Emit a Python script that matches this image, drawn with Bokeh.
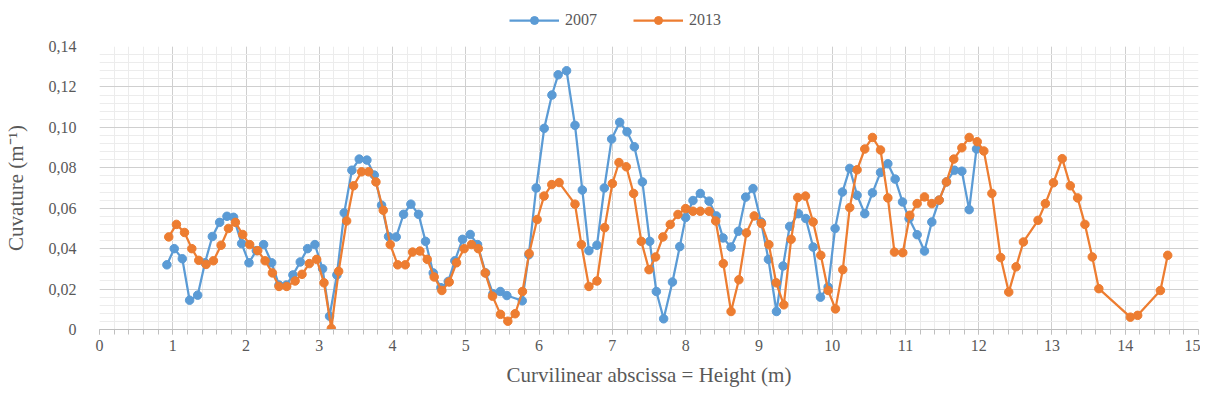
from bokeh.plotting import figure
from bokeh.layouts import column
from bokeh.models import (Legend, LegendItem, SingleIntervalTicker, CustomJSTickFormatter,
                          ColumnDataSource, Range1d)
from bokeh.embed import file_html
from bokeh.resources import INLINE

# ---- data ----
x_2007 = [0.92, 1.02, 1.13, 1.23, 1.34, 1.44, 1.54, 1.64, 1.74, 1.83, 1.94, 2.04, 2.14, 2.24, 2.35,
          2.45, 2.55, 2.64, 2.74, 2.84, 2.94, 3.045, 3.14, 3.24, 3.34, 3.445, 3.545, 3.65, 3.75, 3.85,
          3.945, 4.05, 4.15, 4.25, 4.355, 4.45, 4.555, 4.66, 4.76, 4.85, 4.955, 5.06, 5.16, 5.27, 5.37,
          5.47, 5.56, 5.77, 5.86, 5.96, 6.07, 6.175, 6.26, 6.375, 6.49, 6.59, 6.68, 6.79, 6.89, 6.99,
          7.1, 7.2, 7.3, 7.41, 7.51, 7.6, 7.7, 7.82, 7.92, 8.0, 8.1, 8.2, 8.32, 8.42, 8.51,
          8.62, 8.72, 8.82, 8.92, 9.03, 9.13, 9.24, 9.33, 9.42, 9.54, 9.64, 9.74, 9.84, 9.945, 10.04,
          10.14, 10.24, 10.34, 10.445, 10.55, 10.66, 10.76, 10.86, 10.96, 11.05, 11.16, 11.26, 11.36, 11.46, 11.56,
          11.67, 11.77, 11.87, 11.97]
y_2007 = [0.032, 0.040, 0.035, 0.0145, 0.017, 0.033, 0.046, 0.053, 0.056, 0.0555, 0.0425, 0.033, 0.039, 0.042, 0.033,
          0.022, 0.022, 0.027, 0.0334, 0.040, 0.042, 0.030, 0.0066, 0.027, 0.0577, 0.0788, 0.0843, 0.0838, 0.0764, 0.0615,
          0.046, 0.0458, 0.057, 0.062, 0.057, 0.0436, 0.028, 0.0207, 0.0238, 0.034, 0.0446, 0.047, 0.042, 0.028, 0.0177,
          0.0188, 0.0168, 0.0142, 0.037, 0.070, 0.0995, 0.116, 0.126, 0.128, 0.101, 0.069, 0.039, 0.0417, 0.070, 0.0942,
          0.1025, 0.0978, 0.0904, 0.073, 0.0436, 0.0188, 0.0053, 0.0235, 0.041, 0.0554, 0.0638, 0.0673, 0.0635, 0.0562, 0.0453,
          0.0408, 0.0486, 0.0655, 0.0697, 0.0532, 0.0347, 0.0089, 0.0314, 0.051, 0.0573, 0.0549, 0.0408, 0.016, 0.021, 0.050,
          0.068, 0.0797, 0.0664, 0.0573, 0.0676, 0.0777, 0.082, 0.0744, 0.0631, 0.0549, 0.0469, 0.0388, 0.0532, 0.064, 0.073,
          0.0788, 0.0783, 0.0593, 0.0893]

x_2013 = [0.945, 1.05, 1.16, 1.26, 1.355, 1.455, 1.555, 1.66, 1.76, 1.855, 1.955, 2.05, 2.16, 2.26, 2.36,
          2.45, 2.555, 2.67, 2.764, 2.864, 2.964, 3.064, 3.164, 3.264, 3.373, 3.468, 3.577, 3.673, 3.773, 3.873,
          3.968, 4.07, 4.173, 4.273, 4.373, 4.473, 4.568, 4.673, 4.773, 4.873, 4.977, 5.077, 5.17, 5.264, 5.364,
          5.473, 5.573, 5.673, 5.773, 5.864, 5.973, 6.068, 6.173, 6.273, 6.49, 6.577, 6.68, 6.79, 6.895, 7.0,
          7.09, 7.19, 7.29, 7.395, 7.5, 7.59, 7.69, 7.79, 7.895, 8.0, 8.1, 8.2, 8.32, 8.41, 8.514,
          8.62, 8.727, 8.83, 8.936, 9.036, 9.136, 9.236, 9.34, 9.44, 9.53, 9.636, 9.74, 9.845, 9.945, 10.045,
          10.145, 10.24, 10.34, 10.445, 10.55, 10.66, 10.76, 10.85, 10.964, 11.06, 11.16, 11.26, 11.36, 11.46, 11.56,
          11.66, 11.77, 11.87, 11.98, 12.07, 12.18, 12.3, 12.41, 12.51, 12.61, 12.81, 12.91, 13.02, 13.14, 13.25,
          13.35, 13.45, 13.55, 13.64, 14.07, 14.17, 14.48, 14.58]
y_2013 = [0.0458, 0.052, 0.048, 0.040, 0.0342, 0.0322, 0.034, 0.0417, 0.050, 0.053, 0.047, 0.042, 0.039, 0.034, 0.028,
          0.0213, 0.0213, 0.024, 0.0273, 0.0326, 0.0347, 0.0231, 0.0005, 0.0288, 0.0537, 0.0711, 0.078, 0.078, 0.073, 0.059,
          0.042, 0.032, 0.032, 0.0383, 0.0388, 0.0347, 0.026, 0.0193, 0.0235, 0.033, 0.040, 0.042, 0.040, 0.028, 0.0165,
          0.0075, 0.0041, 0.0078, 0.0188, 0.0376, 0.0544, 0.066, 0.0717, 0.0727, 0.062, 0.042, 0.0213, 0.024, 0.0504, 0.0722,
          0.0826, 0.0805, 0.0673, 0.0436, 0.0296, 0.0359, 0.0458, 0.052, 0.0569, 0.0598, 0.0585, 0.0585, 0.0585, 0.0537, 0.0326,
          0.0089, 0.0246, 0.0478, 0.0562, 0.0524, 0.042, 0.0231, 0.0122, 0.0446, 0.0653, 0.066, 0.0532, 0.0367, 0.0193, 0.0102,
          0.0296, 0.0603, 0.079, 0.0893, 0.095, 0.0888, 0.0651, 0.0383, 0.038, 0.0565, 0.0623, 0.0656, 0.0623, 0.064, 0.073,
          0.0843, 0.0899, 0.095, 0.0929, 0.0883, 0.0673, 0.0356, 0.0185, 0.031, 0.0433, 0.054, 0.0623, 0.0726, 0.0845, 0.0711,
          0.0651, 0.052, 0.0359, 0.0202, 0.0061, 0.007, 0.0193, 0.0367]

series_names = ["2007", "2013"]
series_colors = ["#5B9BD5", "#ED7D31"]

SERIF = "Liberation Serif"
TXT = "#595959"
LW = 2.25
MS = 8.5

sources = [ColumnDataSource(dict(x=x_2007, y=y_2007)),
           ColumnDataSource(dict(x=x_2013, y=y_2013))]

# ---------------- legend strip (top) ----------------
# The same series are drawn here but the y range lies far above the data, so only the legend shows.
top = figure(width=1190, height=38, min_border=0,
             x_range=Range1d(0, 15), y_range=Range1d(10, 11),
             output_backend="svg", toolbar_location=None)
top.axis.visible = False
top.grid.visible = False
top.outline_line_color = None

items = []
for name, col, src in zip(series_names, series_colors, sources):
    l0 = top.line("x", "y", source=src, line_color=col, line_width=LW)
    s0 = top.scatter("x", "y", source=src, marker="circle", size=MS,
                     fill_color=col, line_color=col)
    items.append(LegendItem(label=name, renderers=[l0, s0]))

legend = Legend(items=items, orientation="horizontal", location=(410, 8),
                glyph_width=50, glyph_height=20, label_standoff=6, spacing=36,
                padding=0, margin=0, border_line_color=None, background_fill_alpha=0,
                label_text_font=SERIF, label_text_font_size="16px", label_text_color=TXT)
top.add_layout(legend, "center")

# ---------------- main chart ----------------
p = figure(frame_width=1099, frame_height=283,
           min_border_left=89, min_border_right=2, min_border_top=8, min_border_bottom=57,
           x_range=Range1d(0, 15), y_range=Range1d(0, 0.14),
           output_backend="svg", toolbar_location=None)
p.outline_line_color = None
p.background_fill_color = "white"

p.xaxis.ticker = SingleIntervalTicker(interval=1, num_minor_ticks=5)
p.yaxis.ticker = SingleIntervalTicker(interval=0.02, num_minor_ticks=5)
p.yaxis.formatter = CustomJSTickFormatter(
    code="return Math.abs(tick) < 1e-9 ? '0' : tick.toFixed(2).replace('.', ',');")

p.xaxis.axis_label = "Curvilinear abscissa = Height (m)"
p.yaxis.axis_label = "Cuvature (m\u207b\u00b9)"
for ax in (p.xaxis[0], p.yaxis[0]):
    ax.axis_label_text_font = SERIF
    ax.axis_label_text_font_style = "normal"
    ax.axis_label_text_font_size = "21px"
    ax.axis_label_text_color = TXT
    ax.major_label_text_font = SERIF
    ax.major_label_text_font_size = "16px"
    ax.major_label_text_color = TXT

p.xaxis.axis_line_color = "#bfbfbf"
p.xaxis.major_tick_line_color = "#bfbfbf"
p.xaxis.minor_tick_line_color = "#bfbfbf"
p.xaxis.major_tick_in = 0
p.xaxis.major_tick_out = 5
p.xaxis.minor_tick_in = 0
p.xaxis.minor_tick_out = 5
p.xaxis.major_label_standoff = 5
p.xaxis.axis_label_standoff = 9

p.yaxis.axis_line_color = None
p.yaxis.major_tick_line_color = None
p.yaxis.minor_tick_line_color = None
p.yaxis.major_label_standoff = 17
p.yaxis.axis_label_standoff = 18

p.xgrid.ticker = p.xaxis.ticker
p.ygrid.ticker = p.yaxis.ticker
for g in (p.xgrid[0], p.ygrid[0]):
    g.grid_line_color = "#cfcfcf"
    g.grid_line_width = 1
    g.minor_grid_line_color = "#ececec"
    g.minor_grid_line_width = 1

for col, src in zip(series_colors, sources):
    p.line("x", "y", source=src, line_color=col, line_width=LW)
    p.scatter("x", "y", source=src, marker="circle", size=MS,
              fill_color=col, line_color=col, line_width=1)

layout = column(top, p, spacing=0)
open("out.html", "w").write(file_html(layout, INLINE))
